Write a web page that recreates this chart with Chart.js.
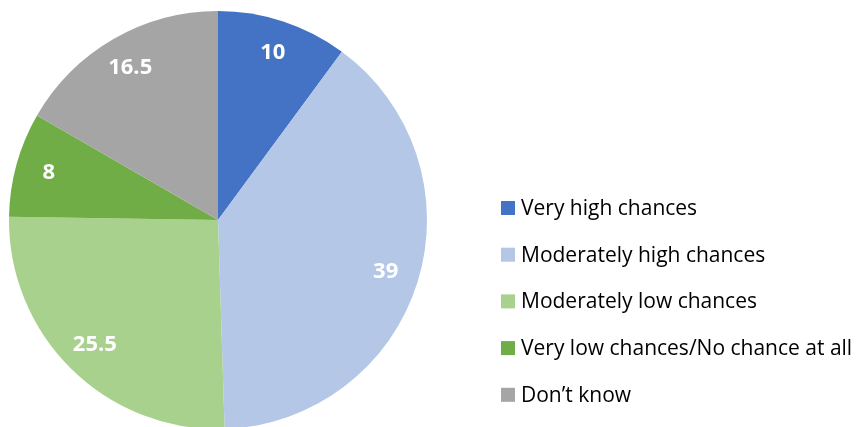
<!DOCTYPE html>
<html>
<head>
<meta charset="utf-8">
<script src="https://cdn.jsdelivr.net/npm/chart.js@4"></script>
<style>
  html, body { margin: 0; padding: 0; background: #fff; overflow: hidden; }
  #wrap { width: 856px; height: 440px; }
</style>
</head>
<body>
<div id="wrap"><canvas id="pieChart" width="856" height="440"></canvas></div>
<script>
const labels = [
  "Very high chances",
  "Moderately high chances",
  "Moderately low chances",
  "Very low chances/No chance at all",
  "Don\u2019t know",
];
const values = [10, 39, 25.5, 8, 16.5];
const colors = ["#4472C4", "#B4C7E7", "#A9D18E", "#70AD47", "#A5A5A5"];

const FONT = "'Open Sans', Lato, sans-serif";

// value labels inside each slice, placed toward the rim
const sliceLabels = {
  id: "sliceLabels",
  afterDatasetsDraw(chart) {
    const ctx = chart.ctx;
    const meta = chart.getDatasetMeta(0);
    ctx.save();
    ctx.fillStyle = "#fff";
    ctx.font = "bold 22px " + FONT;
    ctx.textAlign = "center";
    ctx.textBaseline = "middle";
    meta.data.forEach((arc, i) => {
      const p = arc.getProps(["x", "y", "startAngle", "endAngle", "outerRadius"], true);
      const mid = (p.startAngle + p.endAngle) / 2;
      const r = p.outerRadius * 0.84;
      ctx.fillText(String(values[i]), p.x + Math.cos(mid) * r, p.y + Math.sin(mid) * r);
    });
    ctx.restore();
  },
};

// legend on the right, drawn by hand
const sideLegend = {
  id: "sideLegend",
  afterDraw(chart) {
    const ctx = chart.ctx;
    ctx.save();
    ctx.font = "21px " + FONT;
    ctx.textBaseline = "middle";
    ctx.textAlign = "left";
    labels.forEach((label, i) => {
      const y = 208 + i * 46.7;
      ctx.fillStyle = colors[i];
      ctx.fillRect(501, y - 7, 14, 14);
      ctx.fillStyle = "#000";
      ctx.fillText(label, 521, y + 1);
    });
    ctx.restore();
  },
};

new Chart(document.getElementById("pieChart"), {
  type: "pie",
  data: {
    labels: labels,
    datasets: [
      {
        data: values,
        backgroundColor: colors,
        borderWidth: 0,
      },
    ],
  },
  options: {
    responsive: false,
    animation: false,
    layout: {
      padding: { left: 9, right: 429, top: 11, bottom: 11 },
    },
    plugins: {
      legend: { display: false },
      tooltip: { enabled: false },
    },
  },
  plugins: [sliceLabels, sideLegend],
});
</script>
</body>
</html>
